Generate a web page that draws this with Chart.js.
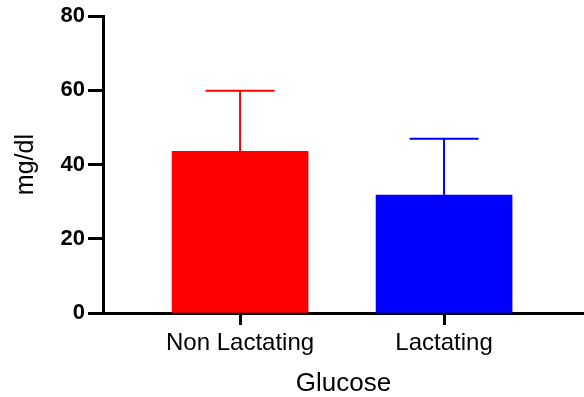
<!DOCTYPE html>
<html>
<head>
<meta charset="utf-8">
<script src="https://cdn.jsdelivr.net/npm/chart.js@4/dist/chart.umd.min.js"></script>
<style>
  body { margin: 0; background: #fff; }
  #wrap { width: 584px; height: 397px; }
</style>
</head>
<body>
<div id="wrap"><canvas id="glucose_chart" width="584" height="397"></canvas></div>
<script>
var categories = ["Non Lactating", "Lactating"];
var means = [43.6, 31.8];
var sds = [16.3, 15.2];
var barColors = ['#ff0000', '#0000ff'];
var yTicks = [0, 20, 40, 60, 80];

// upward-only error bars with caps, like Prism
var errorBars = {
    id: 'errorBars',
    afterDatasetsDraw: function (chart) {
        var ctx = chart.ctx;
        var xs = chart.scales.x, ys = chart.scales.y;
        ctx.save();
        ctx.lineWidth = 2;
        means.forEach(function (m, i) {
            var x = xs.getPixelForValue(i);
            var y0 = ys.getPixelForValue(m);
            var y1 = ys.getPixelForValue(m + sds[i]);
            ctx.strokeStyle = barColors[i];
            ctx.beginPath();
            ctx.moveTo(x, y0);
            ctx.lineTo(x, y1);
            ctx.moveTo(x - 34.5, y1);
            ctx.lineTo(x + 34.5, y1);
            ctx.stroke();
        });
        ctx.restore();
    }
};

new Chart(document.getElementById("glucose_chart").getContext("2d"), {
    type: 'bar',
    data: {
        datasets: [{
            data: means.map(function (v, i) { return {x: i, y: v}; }),
            backgroundColor: barColors,
            borderWidth: 0,
            barThickness: 136
        }]
    },
    options: {
        responsive: false,
        animation: false,
        layout: { padding: { top: 16, right: 0, left: 0, bottom: 0 } },
        plugins: { legend: { display: false }, tooltip: { enabled: false } },
        scales: {
            x: {
                type: 'linear',
                offset: false,
                min: -0.672,
                max: 1.686,
                afterBuildTicks: function (scale) {
                    scale.ticks = categories.map(function (c, i) { return {value: i}; });
                },
                afterFit: function (scale) { scale.height = 84; },
                border: { color: '#000', width: 3 },
                grid: { offset: false, drawOnChartArea: false, color: '#000', tickLength: 12, tickWidth: 3 },
                ticks: {
                    color: '#000',
                    padding: 4,
                    maxRotation: 0,
                    autoSkip: false,
                    font: { family: 'Liberation Sans', size: 24 },
                    callback: function (v) { return categories[v]; }
                },
                title: {
                    display: true,
                    text: 'Glucose',
                    color: '#000',
                    font: { family: 'Liberation Sans', size: 26 },
                    padding: { top: 0, bottom: -2 }
                }
            },
            y: {
                min: 0,
                max: 80,
                afterBuildTicks: function (scale) {
                    scale.ticks = yTicks.map(function (v) { return {value: v}; });
                },
                afterFit: function (scale) { scale.width = 103; },
                border: { color: '#000', width: 3 },
                grid: { drawOnChartArea: false, color: '#000', tickLength: 15, tickWidth: 3 },
                ticks: {
                    color: '#000',
                    padding: 3,
                    font: { family: 'Liberation Sans', size: 22, weight: 'bold' }
                },
                title: {
                    display: true,
                    text: 'mg/dl',
                    color: '#000',
                    font: { family: 'Liberation Sans', size: 25 },
                    padding: { top: 11, bottom: 0 }
                }
            }
        }
    },
    plugins: [errorBars]
});
</script>
</body>
</html>
